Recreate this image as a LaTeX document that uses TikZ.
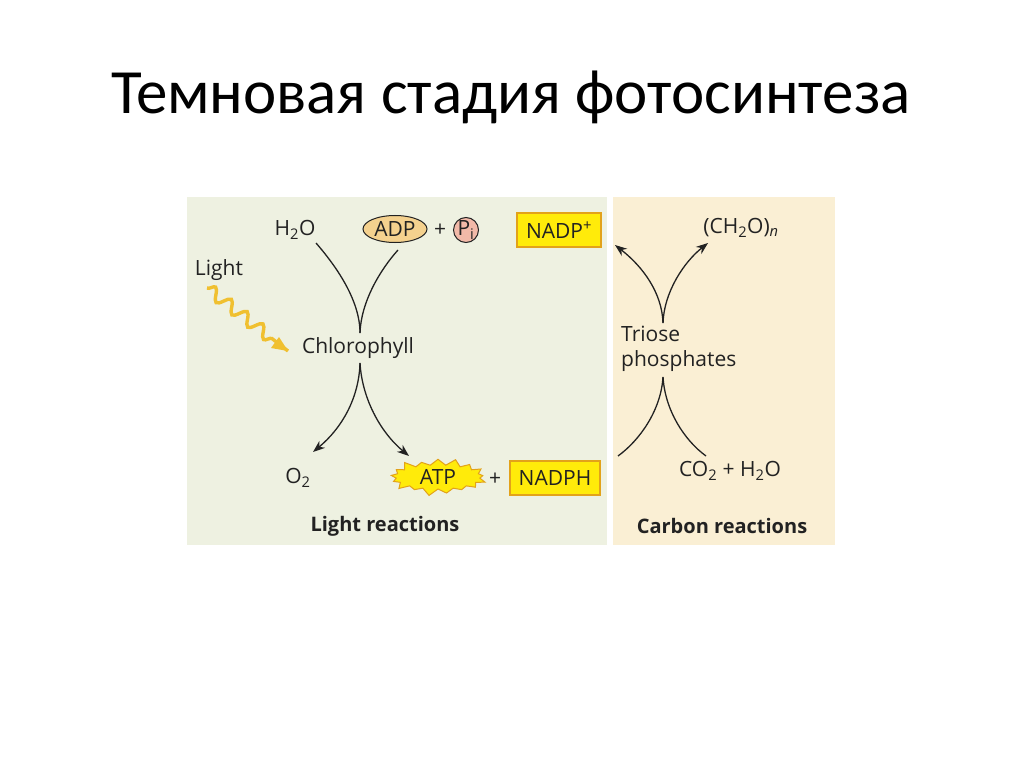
\documentclass[tikz,border=0pt]{standalone}
\usepackage{fontspec}
\setmainfont{Open Sans}
\newfontfamily\titlefont{Carlito}
\usetikzlibrary{arrows.meta,shapes.symbols,shapes.geometric,decorations.pathmorphing}
\definecolor{lightbg}{HTML}{EEF1E1}
\definecolor{carbbg}{HTML}{FAEFD4}
\definecolor{boxfill}{HTML}{FFEB0A}
\definecolor{boxdraw}{HTML}{E2A21A}
\definecolor{adpfill}{HTML}{F4D18E}
\definecolor{pifill}{HTML}{F2B9A8}
\definecolor{wavecol}{HTML}{F0C030}
\definecolor{ink}{HTML}{222222}
\begin{document}
\begin{tikzpicture}[x=1pt,y=-1pt,
  lbl/.style={font=\fontsize{21}{24}\selectfont, text=ink, inner sep=1pt},
  head/.style={font=\bfseries\fontsize{20}{24}\selectfont, text=ink, inner sep=1pt},
  ybox/.style={lbl, draw=boxdraw, line width=2pt, fill=boxfill, minimum height=34pt, inner xsep=4pt},
  curve/.style={draw=ink, line width=1.3pt},
  arr/.style={curve, -{Stealth[length=12pt,width=9pt]}}]
\useasboundingbox (0,0) rectangle (1024,767);
\fill[white] (0,0) rectangle (1024,767);
\node[font=\titlefont\fontsize{63}{70}\selectfont, text=black] (title) at (511,97) {Темновая стадия фотосинтеза};
\fill[lightbg] (187,197) rectangle (607,545);
\fill[carbbg] (613,197) rectangle (835,545);
% light panel
\node[lbl] (h2o) at (295,230) {H\textsubscript{2}O};
\node[lbl, draw=ink, line width=1pt, fill=adpfill, ellipse, minimum width=64pt, minimum height=27pt, inner sep=-3pt] (adp) at (395,229) {ADP};
\node[lbl] (plus1) at (440,230) {+};
\node[lbl, draw=ink, line width=1pt, fill=pifill, circle, minimum size=25pt, inner sep=-4pt] (pi) at (466,230) {P\textsubscript{i}};
\node[ybox, minimum width=84pt] (nadp) at (559,230) {NADP\textsuperscript{+}};
\node[lbl] (light) at (219,270) {Light};
\node[lbl] (chl) at (358,348) {Chlorophyll};
\coordinate (wstart) at (207,288);
\coordinate (wend) at (288,351);
\draw[draw=wavecol, line width=3.4pt, decorate, decoration={snake, segment length=20pt, amplitude=6pt, post length=12pt}] (wstart) -- (wend);
\fill[wavecol] (wend) -- ++(-17,-3) -- ++(8,-11) -- cycle;
\coordinate (chltop) at (360,333);
\coordinate (chlbot) at (360,363);
\draw[curve] (316,243) .. controls (336,266) and (360,300) .. (chltop);
\draw[curve] (398,250) .. controls (380,270) and (361,302) .. (chltop);
\node[lbl] (o2) at (298,478) {O\textsubscript{2}};
\node[lbl, starburst, starburst points=17, starburst point height=8pt, fill=boxfill, draw=boxdraw, line width=1pt, minimum width=100pt, minimum height=40pt, inner sep=0pt] (atp) at (438,477) {ATP};
\node[lbl] (plus2) at (495,479) {+};
\node[ybox, minimum width=90pt] (nadph) at (555,478) {NADPH};
\draw[arr] (chlbot) .. controls (359,398) and (342,428) .. (313,452);
\draw[arr] (chlbot) .. controls (362,398) and (380,432) .. (409,456);
\node[head] (lr) at (385,526) {Light reactions};
% carbon panel
\node[lbl] (ch2o) at (741,228) {(CH\textsubscript{2}O)\textsubscript{\itshape n}};
\node[lbl, align=left, anchor=west, font=\fontsize{21}{25}\selectfont] (tri) at (620,349) {Triose\\phosphates};
\coordinate (tritop) at (663,323);
\coordinate (tribot) at (663,377);
\coordinate (leftend) at (615,245);
\coordinate (leftlow) at (618,456);
\draw[arr] (tritop) .. controls (662,292) and (642,266) .. (leftend);
\draw[arr] (tritop) .. controls (664,292) and (684,262) .. (708,243);
\draw[curve] (tribot) .. controls (661,410) and (640,440) .. (leftlow);
\draw[curve] (tribot) .. controls (665,410) and (684,440) .. (706,456);
\node[lbl] (co2) at (730,471) {CO\textsubscript{2} + H\textsubscript{2}O};
\node[head] (cr) at (722,526) {Carbon reactions};
\end{tikzpicture}
\end{document}
